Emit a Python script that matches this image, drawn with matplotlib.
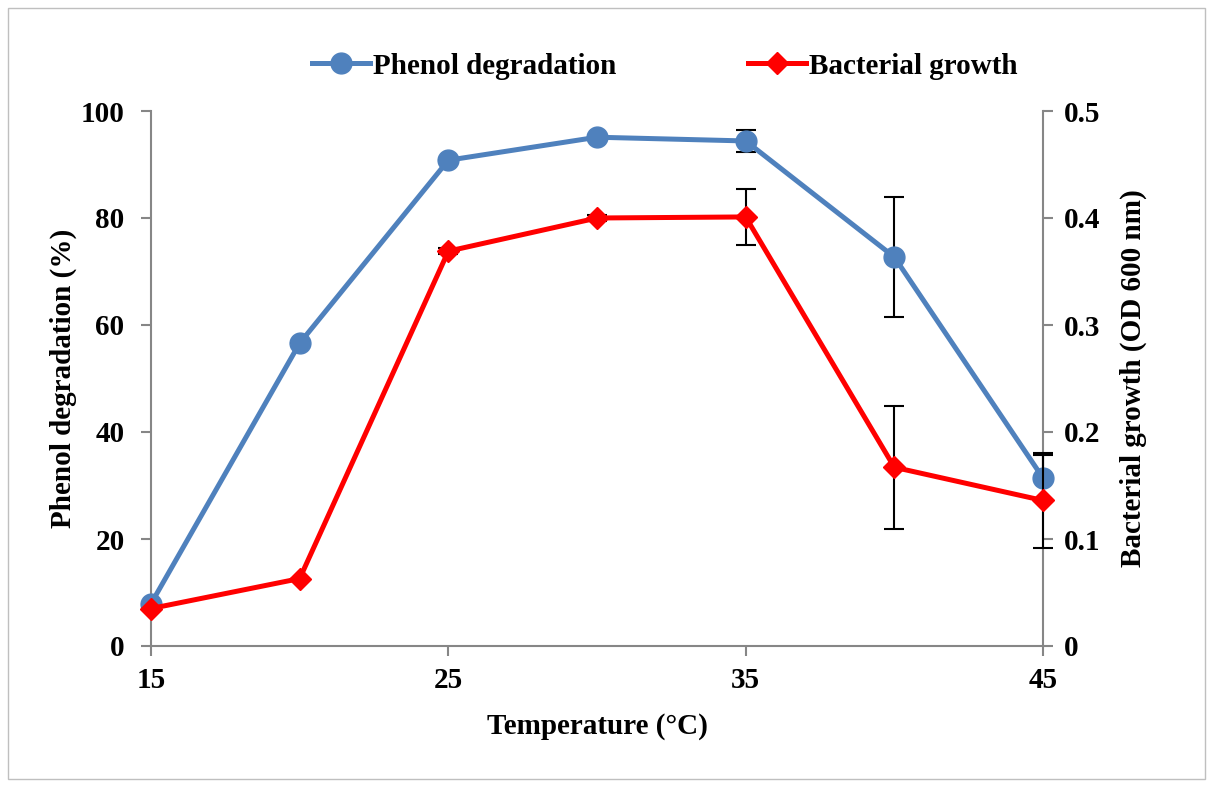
import matplotlib
matplotlib.use("Agg")
import matplotlib.pyplot as plt
from matplotlib.lines import Line2D
from matplotlib.patches import Rectangle

temps = [15, 20, 25, 30, 35, 40, 45]
phenol = [7.9, 56.6, 90.8, 95.1, 94.4, 72.7, 31.4]
phenol_err = [0, 0, 0, 0, 2.1, 11.2, 4.3]
growth = [0.035, 0.063, 0.369, 0.400, 0.401, 0.167, 0.136]
growth_err = [0, 0, 0.003, 0.003, 0.026, 0.0575, 0.044]
xticks = [15, 25, 35, 45]
left_ticks = [0, 20, 40, 60, 80, 100]
right_ticks = [0, 0.1, 0.2, 0.3, 0.4, 0.5]
right_labels = ["0", "0.1", "0.2", "0.3", "0.4", "0.5"]

plt.rcParams['font.family'] = ['Liberation Serif', 'DejaVu Serif']
plt.rcParams['font.weight'] = 'bold'

W, H = 1213, 787
FS = 21
fig = plt.figure(figsize=(W/100, H/100), dpi=100)
ax = fig.add_axes([151/W, 1-646/H, (1043-151)/W, (646-111)/H])
ax2 = ax.twinx()

blue = '#4F81BD'
red = '#FF0000'
gray = '#868686'

ax.errorbar(temps, phenol, yerr=phenol_err, color=blue, lw=3.6, marker='o', ms=15,
            ecolor='black', elinewidth=1.5, capsize=7, capthick=1.5, zorder=3, clip_on=False)
ax2.errorbar(temps, growth, yerr=growth_err, color=red, lw=3.6, marker='D', ms=11,
             ecolor='black', elinewidth=1.5, capsize=7, capthick=1.5, zorder=3, clip_on=False)

ax.set_xlim(15, 45)
ax.set_ylim(0, 100)
ax2.set_ylim(0, 0.5)
ax.set_xticks(xticks)
ax.set_yticks(left_ticks)
ax2.set_yticks(right_ticks)
ax2.set_yticklabels(right_labels)

for a in (ax, ax2):
    for s in a.spines.values():
        s.set_color(gray)
        s.set_linewidth(1.5)
    a.spines['top'].set_visible(False)
    a.tick_params(colors=gray, width=1.5, length=7, labelsize=FS, labelcolor='black', pad=8)
ax.tick_params(axis='y', pad=12)
ax.spines['right'].set_visible(False)
ax2.spines['left'].set_visible(False)
ax2.spines['bottom'].set_visible(False)
for lab in ax.get_xticklabels() + ax.get_yticklabels() + ax2.get_yticklabels():
    lab.set_fontweight('bold')

ax.set_xlabel('Temperature (°C)', fontsize=FS, fontweight='bold', labelpad=14)
ax.set_ylabel('Phenol degradation (%)', fontsize=FS, fontweight='bold', labelpad=3)
ax2.set_ylabel('Bacterial growth (OD 600 nm)', fontsize=FS, fontweight='bold', labelpad=14)

handles = [Line2D([], [], color=blue, lw=3.6, marker='o', ms=15),
           Line2D([], [], color=red, lw=3.6, marker='D', ms=11)]
fig.legend(handles, ['Phenol degradation', 'Bacterial growth'], loc='center',
           bbox_to_anchor=(665/W, 1-66/H), ncol=2, frameon=False,
           prop={'weight': 'bold', 'size': FS}, columnspacing=4.5, handlelength=2.0,
           handletextpad=0.1)

fig.patches.append(Rectangle((8/W, 8/H), 1-16/W, 1-16/H, transform=fig.transFigure,
                             fill=False, edgecolor='#BFBFBF', lw=1))

fig.savefig('out.png', dpi=100)
